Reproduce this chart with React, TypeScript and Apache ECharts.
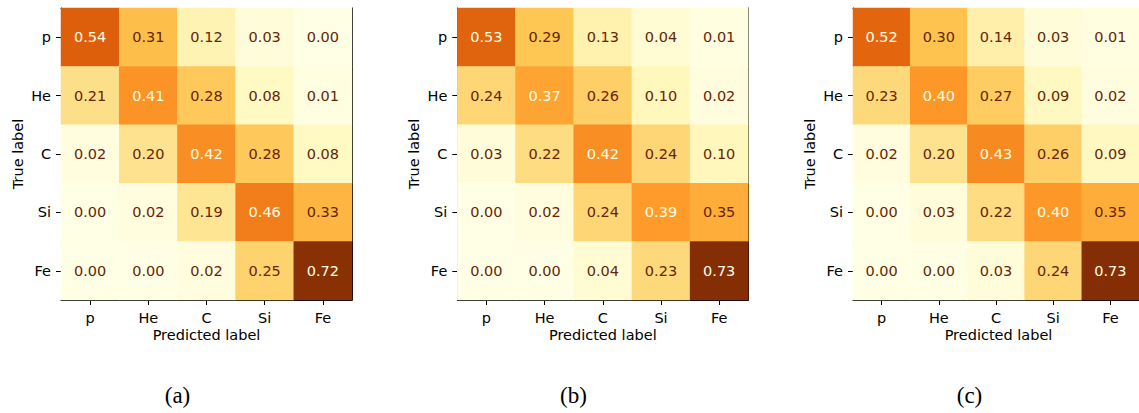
import React, { useEffect, useRef } from "react";
import * as echarts from "echarts";

const categories = ["p", "He", "C", "Si", "Fe"];

const matrixA = [
  [0.54, 0.31, 0.12, 0.03, 0.0],
  [0.21, 0.41, 0.28, 0.08, 0.01],
  [0.02, 0.2, 0.42, 0.28, 0.08],
  [0.0, 0.02, 0.19, 0.46, 0.33],
  [0.0, 0.0, 0.02, 0.25, 0.72],
];

const matrixB = [
  [0.53, 0.29, 0.13, 0.04, 0.01],
  [0.24, 0.37, 0.26, 0.1, 0.02],
  [0.03, 0.22, 0.42, 0.24, 0.1],
  [0.0, 0.02, 0.24, 0.39, 0.35],
  [0.0, 0.0, 0.04, 0.23, 0.73],
];

const matrixC = [
  [0.52, 0.3, 0.14, 0.03, 0.01],
  [0.23, 0.4, 0.27, 0.09, 0.02],
  [0.02, 0.2, 0.43, 0.26, 0.09],
  [0.0, 0.03, 0.22, 0.4, 0.35],
  [0.0, 0.0, 0.03, 0.24, 0.73],
];

const captions = ["(a)", "(b)", "(c)"];
const xAxisTitle = "Predicted label";
const yAxisTitle = "True label";

const YLORBR = [
  "#ffffe5",
  "#fff7bc",
  "#fee391",
  "#fec44f",
  "#fe9929",
  "#ec7014",
  "#cc4c02",
  "#993404",
  "#662506",
];
const DARK_TEXT = "#662506";
const LIGHT_TEXT = "#ffffe5";
const FONT = "DejaVu Sans";

export default function App() {
  const ref = useRef<HTMLDivElement>(null);

  useEffect(() => {
    if (!ref.current) return;
    const chart = echarts.init(ref.current, undefined, { renderer: "svg" });

    const matrices = [matrixA, matrixB, matrixC];
    const gridLefts = [61, 457.3, 853];
    const gridTop = 8;
    const gridW = 291;
    const gridH = 292;
    const captionX = [177.5, 573.5, 969.5];

    const grids: any[] = [];
    const xAxes: any[] = [];
    const yAxes: any[] = [];
    const series: any[] = [];
    const visualMaps: any[] = [];
    const graphics: any[] = [];

    matrices.forEach((m, k) => {
      grids.push({ left: gridLefts[k], top: gridTop, width: gridW, height: gridH, containLabel: false });
      const flat = m.flat();
      const mx = Math.max(...flat);
      const mn = Math.min(...flat);
      const thresh = (mx + mn) / 2;

      xAxes.push({
        type: "category",
        gridIndex: k,
        data: categories,
        position: "bottom",
        axisLine: { show: true, lineStyle: { color: "#000", width: 1 } },
        axisTick: { show: true, alignWithLabel: true, length: 5, lineStyle: { color: "#000", width: 1 } },
        axisLabel: { color: "#000", fontSize: 14.5, fontFamily: FONT, margin: 10 },
        splitLine: { show: false },
      });
      xAxes.push({
        type: "category",
        gridIndex: k,
        data: categories,
        position: "top",
        axisLine: { show: true, lineStyle: { color: "#000", width: 1 } },
        axisTick: { show: false },
        axisLabel: { show: false },
        splitLine: { show: false },
      });
      yAxes.push({
        type: "category",
        gridIndex: k,
        data: categories,
        inverse: true,
        position: "left",
        axisLine: { show: true, lineStyle: { color: "#000", width: 1 } },
        axisTick: { show: true, alignWithLabel: true, length: 5, lineStyle: { color: "#000", width: 1 } },
        axisLabel: { color: "#000", fontSize: 14.5, fontFamily: FONT, margin: 10 },
        splitLine: { show: false },
      });
      yAxes.push({
        type: "category",
        gridIndex: k,
        data: categories,
        inverse: true,
        position: "right",
        axisLine: { show: true, lineStyle: { color: "#000", width: 1 } },
        axisTick: { show: false },
        axisLabel: { show: false },
        splitLine: { show: false },
      });

      const data: any[] = [];
      m.forEach((row, i) => {
        row.forEach((v, j) => {
          data.push({
            value: [j, i, v],
            label: { color: v < thresh ? DARK_TEXT : LIGHT_TEXT },
          });
        });
      });

      series.push({
        type: "heatmap",
        xAxisIndex: 2 * k,
        yAxisIndex: 2 * k,
        data,
        itemStyle: { borderWidth: 0 },
        label: {
          show: true,
          fontSize: 14.5,
          fontFamily: FONT,
          formatter: (p: any) => p.value[2].toFixed(2),
        },
        emphasis: { disabled: true },
      });

      visualMaps.push({
        type: "continuous",
        show: false,
        seriesIndex: k,
        dimension: 2,
        min: 0,
        max: 0.79,
        inRange: { color: YLORBR },
      });

      graphics.push({
        type: "text",
        x: gridLefts[k] + gridW / 2,
        y: 334.5,
        style: {
          text: xAxisTitle,
          fontSize: 14.5,
          fontFamily: FONT,
          fill: "#000",
          textAlign: "center",
          textVerticalAlign: "middle",
        },
      });
      graphics.push({
        type: "text",
        x: gridLefts[k] - 43.5,
        y: gridTop + gridH / 2,
        rotation: Math.PI / 2,
        style: {
          text: yAxisTitle,
          fontSize: 14.5,
          fontFamily: FONT,
          fill: "#000",
          textAlign: "center",
          textVerticalAlign: "middle",
        },
      });
      graphics.push({
        type: "text",
        x: captionX[k],
        y: 395,
        style: {
          text: captions[k],
          fontSize: 23,
          fontFamily: "Liberation Serif",
          fill: "#000",
          textAlign: "center",
          textVerticalAlign: "middle",
        },
      });
    });

    chart.setOption({
      animation: false,
      backgroundColor: "#fff",
      grid: grids,
      xAxis: xAxes,
      yAxis: yAxes,
      visualMap: visualMaps,
      series,
      graphic: graphics,
    });

    return () => chart.dispose();
  }, []);

  return (
    <div
      ref={ref}
      style={{ position: "absolute", left: 0, top: 0, width: 1139, height: 413 }}
    />
  );
}
